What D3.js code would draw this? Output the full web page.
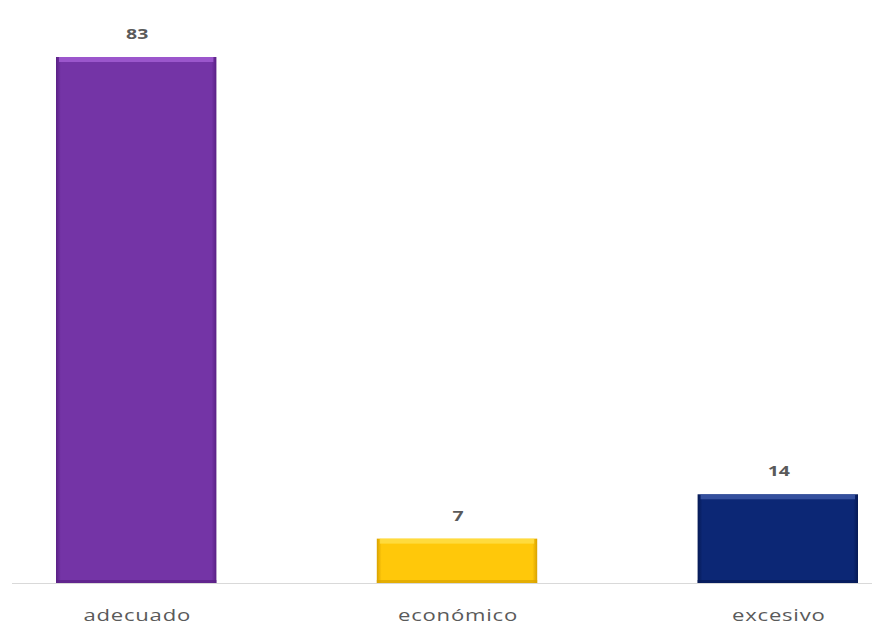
<!DOCTYPE html>
<html><head><meta charset="utf-8">
<script src="https://cdn.jsdelivr.net/npm/d3@7"></script>
<style>body{margin:0;background:#fff}svg{display:block}</style>
</head><body>
<script>
const categories = ["adecuado", "económico", "excesivo"];
const values = [83, 7, 14];
const colors = ["#7434a6", "#ffc80a", "#0c2775"];
const edgeLight = ["#a55fd6", "#ffe04a", "#3e5aa8"];
const edgeDark = ["#5a2085", "#d9a200", "#061a55"];

const W = 872, H = 626;
const svg = d3.select("body").append("svg").attr("width", W).attr("height", H);
const baseY = 583;
const x = d3.scaleBand().domain(categories).range([56, 858]).paddingInner(0.5).paddingOuter(0);
const y = d3.scaleLinear().domain([0, 83]).range([baseY, 57]);

const defs = svg.append("defs");
categories.forEach((c, i) => {
  const g = defs.append("linearGradient").attr("id", "g" + i).attr("x1", 0).attr("x2", 1).attr("y1", 0).attr("y2", 0);
  g.append("stop").attr("offset", "0%").attr("stop-color", edgeDark[i]);
  g.append("stop").attr("offset", "3%").attr("stop-color", colors[i]);
  g.append("stop").attr("offset", "97%").attr("stop-color", colors[i]);
  g.append("stop").attr("offset", "100%").attr("stop-color", edgeDark[i]);
});

// axis line
svg.append("line").attr("x1", 12).attr("x2", 872).attr("y1", baseY + 0.5).attr("y2", baseY + 0.5)
  .attr("stroke", "#d9d9d9").attr("stroke-width", 1);

const bars = svg.selectAll("g.bar").data(categories).join("g").attr("class", "bar");
bars.append("rect")
  .attr("x", d => x(d)).attr("width", x.bandwidth())
  .attr("y", (d, i) => y(values[i])).attr("height", (d, i) => baseY - y(values[i]))
  .attr("fill", (d, i) => `url(#g${i})`);
// top bevel highlight
bars.append("rect")
  .attr("x", d => x(d) + 3).attr("width", x.bandwidth() - 6)
  .attr("y", (d, i) => y(values[i])).attr("height", 5)
  .attr("fill", (d, i) => edgeLight[i]).attr("opacity", 0.8);
// bottom bevel shade
bars.append("rect")
  .attr("x", d => x(d)).attr("width", x.bandwidth())
  .attr("y", baseY - 3).attr("height", 3)
  .attr("fill", (d, i) => edgeDark[i]).attr("opacity", 0.7);

// value labels
bars.append("text")
  .attr("transform", (d, i) => `translate(${x(d) + x.bandwidth() / 2 + 1},${y(values[i]) - 18}) scale(1.3,1)`)
  .attr("text-anchor", "middle")
  .attr("font-family", "'Open Sans', 'Liberation Sans', sans-serif")
  .attr("font-weight", "bold").attr("font-size", 15).attr("fill", "#5a5a5a")
  .text((d, i) => values[i]);

// category labels
svg.append("g").selectAll("text").data(categories).join("text")
  .attr("transform", d => `translate(${x(d) + x.bandwidth() / 2 + 1},621) scale(1.3,1)`)
  .attr("text-anchor", "middle")
  .attr("font-family", "'Open Sans', 'Liberation Sans', sans-serif")
  .attr("font-size", 17).attr("letter-spacing", 0.6).attr("fill", "#5a5a5a")
  .text(d => d);
</script>
</body></html>
